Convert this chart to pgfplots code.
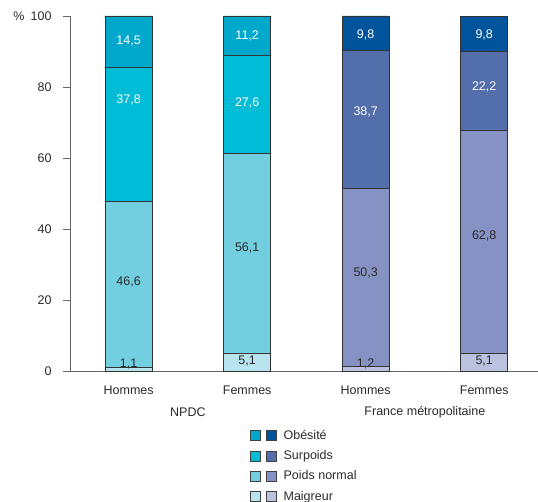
\documentclass[border=0pt]{standalone}
\usepackage{fontspec}
\setmainfont{Liberation Sans}
\usepackage{pgfplots}
\pgfplotsset{compat=1.18}
\usepackage{pgfplotstable}

\definecolor{nOb}{HTML}{00A8CC}
\definecolor{nSu}{HTML}{00BCD7}
\definecolor{nNo}{HTML}{71CFE0}
\definecolor{nMa}{HTML}{B8E4EF}
\definecolor{fOb}{HTML}{00549C}
\definecolor{fSu}{HTML}{526EAB}
\definecolor{fNo}{HTML}{8592C3}
\definecolor{fMa}{HTML}{BAC2E0}
\definecolor{txt}{HTML}{2A2A2A}

\pgfplotstableread{
x mN mF nN nF sN sF oN oF
0 1.1 0 46.6 0 37.8 0 14.5 0
1 5.1 0 56.1 0 27.6 0 11.2 0
2 0 1.2 0 50.3 0 38.7 0 9.8
3 0 5.1 0 62.8 0 22.2 0 9.8
}\data

\pgfplotstableread{
x y label
0 93.0 14,5
0 76.3 37,8
1 94.4 11,2
1 75.6 27,6
2 94.6 9,8
2 73.0 38,7
3 94.6 9,8
3 79.9 22,2
}\whitelabels

\pgfplotstableread{
x y label
0 25.0 46,6
0 2.0 1,1
1 34.8 56,1
1 2.8 5,1
2 27.5 50,3
2 2.0 1,2
3 38.0 62,8
3 2.8 5,1
}\darklabels

\pgfplotsset{
  common/.style={scale only axis, width=468pt, height=355pt,
    xmin=-0.495, xmax=3.454, ymin=0, ymax=100,
    at={(0,0)}, anchor=south west},
  seg/.style={fill=#1, draw=black!80, line width=0.7pt},
  swatch/.style n args={2}{legend image code/.code={
    \draw[draw=black!75, fill=#1] (0pt,-5pt) rectangle (10pt,5pt);
    \draw[draw=black!75, fill=#2] (16pt,-5pt) rectangle (26pt,5pt);
    \path (31pt,0pt);}},
}

\begin{document}
\begin{tikzpicture}[font=\fontsize{12.5}{15}\selectfont, text=txt]
\path[use as bounding box] (-70pt,-131pt) rectangle (468pt,371pt);
\begin{axis}[common,
  ybar stacked, bar width=47pt,
  axis x line*=bottom, axis y line*=left,
  axis line style={draw=black!60, line width=0.8pt},
  ytick={0,20,40,60,80,100},
  tick align=outside, major tick length=7pt,
  y tick style={draw=black!60, line width=0.8pt},
  xtick={0,1,2,3}, xticklabels={Hommes,Femmes,Hommes,Femmes},
  x tick style={draw=none},
  xticklabel style={yshift=-4pt, text=txt},
  yticklabel style={text=txt, xshift=-8pt},
  /pgf/number format/assume math mode=true,
  clip=false,
]
\addplot[seg=nMa] table[x=x,y=mN] {\data};
\addplot[seg=fMa] table[x=x,y=mF] {\data};
\addplot[seg=nNo] table[x=x,y=nN] {\data};
\addplot[seg=fNo] table[x=x,y=nF] {\data};
\addplot[seg=nSu] table[x=x,y=sN] {\data};
\addplot[seg=fSu] table[x=x,y=sF] {\data};
\addplot[seg=nOb] table[x=x,y=oN] {\data};
\addplot[seg=fOb] table[x=x,y=oF] {\data};
\node[anchor=east, text=txt] at (rel axis cs:0,1) [xshift=-42pt] {\%};
\node[text=txt] at (axis cs:0.5,0) [yshift=-41pt] {NPDC};
\node[text=txt] at (axis cs:2.5,0) [yshift=-41pt] {France métropolitaine};
\end{axis}
\begin{axis}[common, hide axis, clip=false,
  legend style={at={(axis description cs:0,0)}, anchor=north west,
    xshift=177pt, yshift=-55pt, draw=none, fill=none,
    row sep=5.7pt, font=\fontsize{12.5}{15}\selectfont,
    nodes={text=txt}},
  legend cell align=left,
]
\addplot[forget plot, draw=none, mark=none, nodes near coords, point meta=explicit symbolic,
  nodes near coords align={center}, every node near coord/.append style={text=white, anchor=center}]
  table[x=x,y=y,meta=label] {\whitelabels};
\addplot[forget plot, draw=none, mark=none, nodes near coords, point meta=explicit symbolic,
  nodes near coords align={center}, every node near coord/.append style={text=txt, anchor=center}]
  table[x=x,y=y,meta=label] {\darklabels};
\addlegendimage{swatch={nOb}{fOb}}
\addlegendentry{Obésité}
\addlegendimage{swatch={nSu}{fSu}}
\addlegendentry{Surpoids}
\addlegendimage{swatch={nNo}{fNo}}
\addlegendentry{Poids normal}
\addlegendimage{swatch={nMa}{fMa}}
\addlegendentry{Maigreur}
\end{axis}
\end{tikzpicture}
\end{document}
